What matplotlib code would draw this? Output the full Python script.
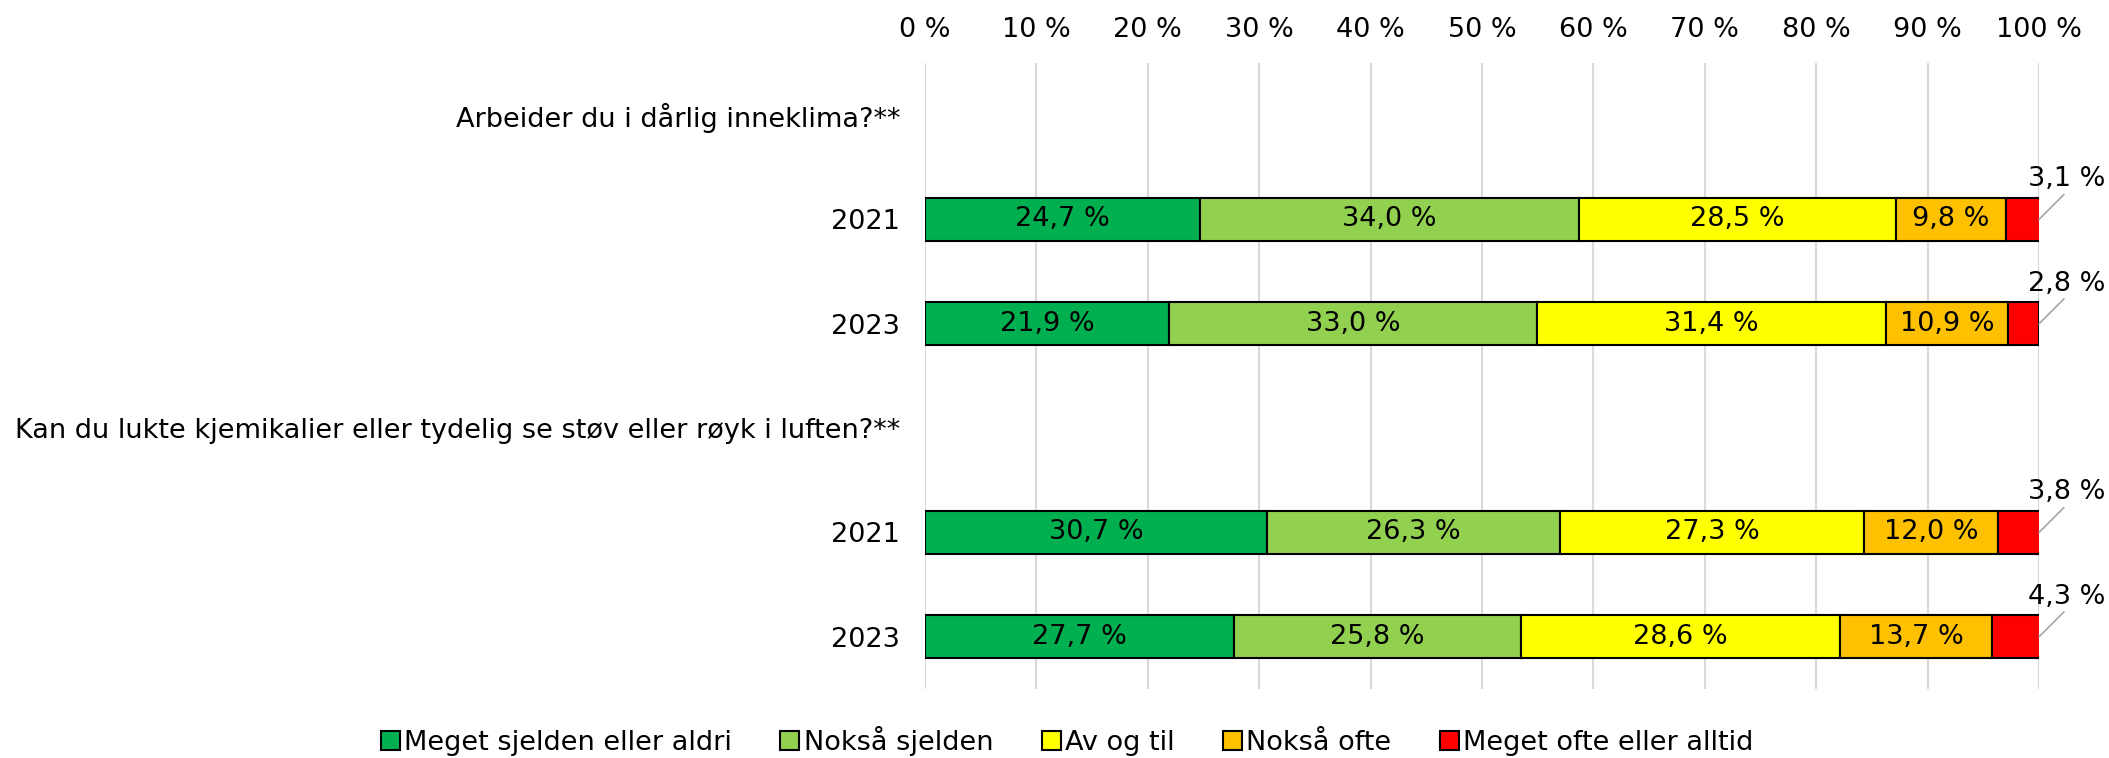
import matplotlib
matplotlib.use("Agg")
import matplotlib.pyplot as plt
import numpy as np

plt.rcParams['font.family'] = ['DejaVu Sans']

row_labels = ["Arbeider du i dårlig inneklima?**", "2021", "2023",
              "Kan du lukte kjemikalier eller tydelig se støv eller røyk i luften?**", "2021", "2023"]
categories = ["Meget sjelden eller aldri", "Nokså sjelden", "Av og til", "Nokså ofte", "Meget ofte eller alltid"]
colors = ["#00B050", "#92D050", "#FFFF00", "#FFC000", "#FF0000"]

# one list per category, rows in the same order as row_labels (None = header row)
meget_sjelden = [None, 24.7, 21.9, None, 30.7, 27.7]
noksa_sjelden = [None, 34.0, 33.0, None, 26.3, 25.8]
av_og_til = [None, 28.5, 31.4, None, 27.3, 28.6]
noksa_ofte = [None, 9.8, 10.9, None, 12.0, 13.7]
meget_ofte = [None, 3.1, 2.8, None, 3.8, 4.3]
series = [meget_sjelden, noksa_sjelden, av_og_til, noksa_ofte, meget_ofte]

fs = 19.5
fig = plt.figure(figsize=(21.09, 7.58), dpi=100)
ax = fig.add_axes([0.4386, 0.091, 0.5282, 0.826])

y = np.arange(len(row_labels))
data_rows = [j for j in y if meget_sjelden[j] is not None]
left = np.zeros(len(row_labels))
for i, (vals, col, name) in enumerate(zip(series, colors, categories)):
    v = np.array([0 if x is None else x for x in vals], dtype=float)
    ax.barh(y[data_rows], v[data_rows], left=left[data_rows], height=0.41, color=col,
            edgecolor="black", linewidth=1.5, label=name, zorder=2)
    for j in data_rows:
        x = vals[j]
        txt = f"{x:.1f} %".replace(".", ",")
        if i < 4:
            ax.text(left[j] + x / 2, y[j], txt, ha="center", va="center", fontsize=fs, zorder=3)
        else:
            end = min(left[j] + x, 100)
            ax.annotate("", xy=(end, y[j]), xytext=(25, 25), textcoords="offset pixels",
                        annotation_clip=False,
                        arrowprops=dict(arrowstyle="-", color="#a6a6a6", lw=1.2, shrinkA=0, shrinkB=0))
            ax.annotate(txt, xy=(end, y[j]), xytext=(28, 27), textcoords="offset pixels",
                        annotation_clip=False, ha="center", va="bottom", fontsize=fs)
    left += v

ax.set_xlim(0, 100)
ax.set_ylim(5.5, -0.5)
ax.set_yticks(y)
ax.set_yticklabels(row_labels, fontsize=fs)
ax.xaxis.tick_top()
ax.set_xticks(np.arange(0, 101, 10))
ax.set_xticklabels([f"{t} %" for t in range(0, 101, 10)], fontsize=fs)
ax.tick_params(length=0)
ax.tick_params(axis="x", pad=14)
ax.tick_params(axis="y", pad=18)
ax.grid(axis="x", color="#d9d9d9", lw=1.5, zorder=0)
ax.set_axisbelow(True)
for s in ax.spines.values():
    s.set_visible(False)

fig.legend(loc="lower center", bbox_to_anchor=(0.506, -0.03), ncol=5, frameon=False, fontsize=fs,
           handlelength=0.7, handleheight=0.7, handletextpad=0.15, columnspacing=1.8)

fig.savefig("out.png", dpi=100)
